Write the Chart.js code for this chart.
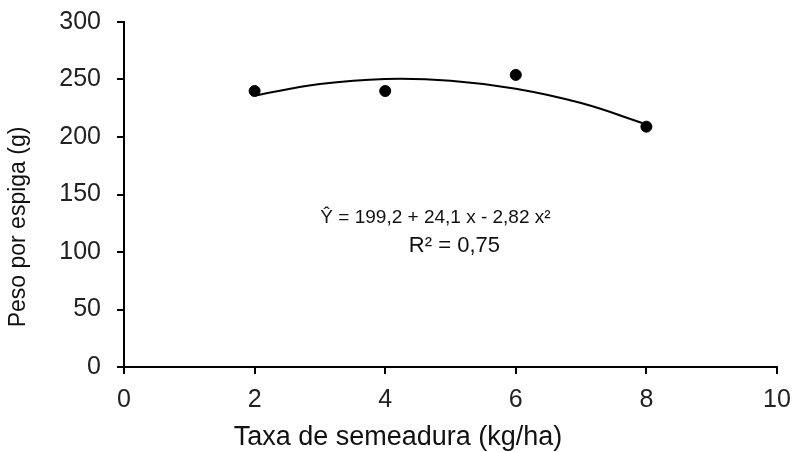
<!DOCTYPE html>
<html>
<head>
<meta charset="utf-8">
<script src="https://cdn.jsdelivr.net/npm/chart.js@4/dist/chart.umd.min.js"></script>
<style>
  html, body { margin: 0; padding: 0; background: #fff; }
  #wrap { width: 795px; height: 452px; position: relative; }
</style>
</head>
<body>
<div id="wrap"><canvas id="chart"></canvas></div>
<script>
// ---------- dados ----------
const taxa = [2, 4, 6, 8];
const peso = [240, 240, 254, 209];

// curva ajustada
const curvaX = [2, 3, 4, 5, 6, 7, 8];
const curvaY = [236, 246, 250.5, 249, 242, 229.5, 211];

const xTicks = [0, 2, 4, 6, 8, 10];
const yTicks = [0, 50, 100, 150, 200, 250, 300];

const tituloX = 'Taxa de semeadura (kg/ha)';
const tituloY = 'Peso por espiga (g)';
const equacao = ['Ŷ = 199,2 + 24,1 x - 2,82 x²', 'R² = 0,75'];

const FONT = "Arial, 'Liberation Sans', sans-serif";

// equacao e titulos dos eixos
const textPlugin = {
  id: 'textos',
  afterDraw(chart) {
    const { ctx, scales: { x, y } } = chart;
    ctx.save();
    ctx.fillStyle = '#111';
    ctx.textAlign = 'center';
    ctx.textBaseline = 'middle';
    ctx.font = '19px ' + FONT;
    ctx.fillText(equacao[0], x.getPixelForValue(4.77), y.getPixelForValue(130));
    ctx.font = '22px ' + FONT;
    ctx.fillText(equacao[1], x.getPixelForValue(5.06), y.getPixelForValue(105.5));

    ctx.font = '27px ' + FONT;
    ctx.fillText(tituloX, 398, 438);

    ctx.font = '23px ' + FONT;
    ctx.translate(19, 227);
    ctx.rotate(-Math.PI / 2);
    ctx.fillText(tituloY, 0, 0);
    ctx.restore();
  }
};

const ctx = document.getElementById('chart').getContext('2d');
new Chart(ctx, {
  type: 'scatter',
  data: {
    datasets: [
      {
        label: 'pontos',
        data: taxa.map((v, i) => ({ x: v, y: peso[i] })),
        backgroundColor: '#000',
        borderColor: '#000',
        pointRadius: 5.5,
        showLine: false,
        order: 0
      },
      {
        label: 'curva',
        data: curvaX.map((v, i) => ({ x: v, y: curvaY[i] })),
        borderColor: '#000',
        borderWidth: 2,
        pointRadius: 0,
        showLine: true,
        tension: 0.4,
        order: 1
      }
    ]
  },
  options: {
    responsive: true,
    maintainAspectRatio: false,
    animation: false,
    layout: { padding: { top: 22, right: 18, left: 0, bottom: 0 } },
    plugins: { legend: { display: false }, tooltip: { enabled: false } },
    scales: {
      x: {
        type: 'linear',
        min: 0, max: 10,
        afterBuildTicks: s => { s.ticks = xTicks.map(v => ({ value: v })); },
        afterFit: s => { s.height = 85; s.paddingLeft = 0; s.paddingRight = 0; },
        grid: { drawOnChartArea: false, drawTicks: true, tickLength: 7, color: '#000', lineWidth: 2 },
        border: { color: '#000', width: 2 },
        ticks: { color: '#222', font: { size: 25, family: FONT }, padding: 11, maxRotation: 0 }
      },
      y: {
        type: 'linear',
        min: 0, max: 300,
        afterBuildTicks: s => { s.ticks = yTicks.map(v => ({ value: v })); },
        afterFit: s => { s.width = 124; s.paddingTop = 0; s.paddingBottom = 0; },
        grid: { drawOnChartArea: false, drawTicks: true, tickLength: 7, color: '#000', lineWidth: 2 },
        border: { color: '#000', width: 2 },
        ticks: { color: '#222', font: { size: 25, family: FONT }, padding: 16 }
      }
    }
  },
  plugins: [textPlugin]
});
</script>
</body>
</html>
